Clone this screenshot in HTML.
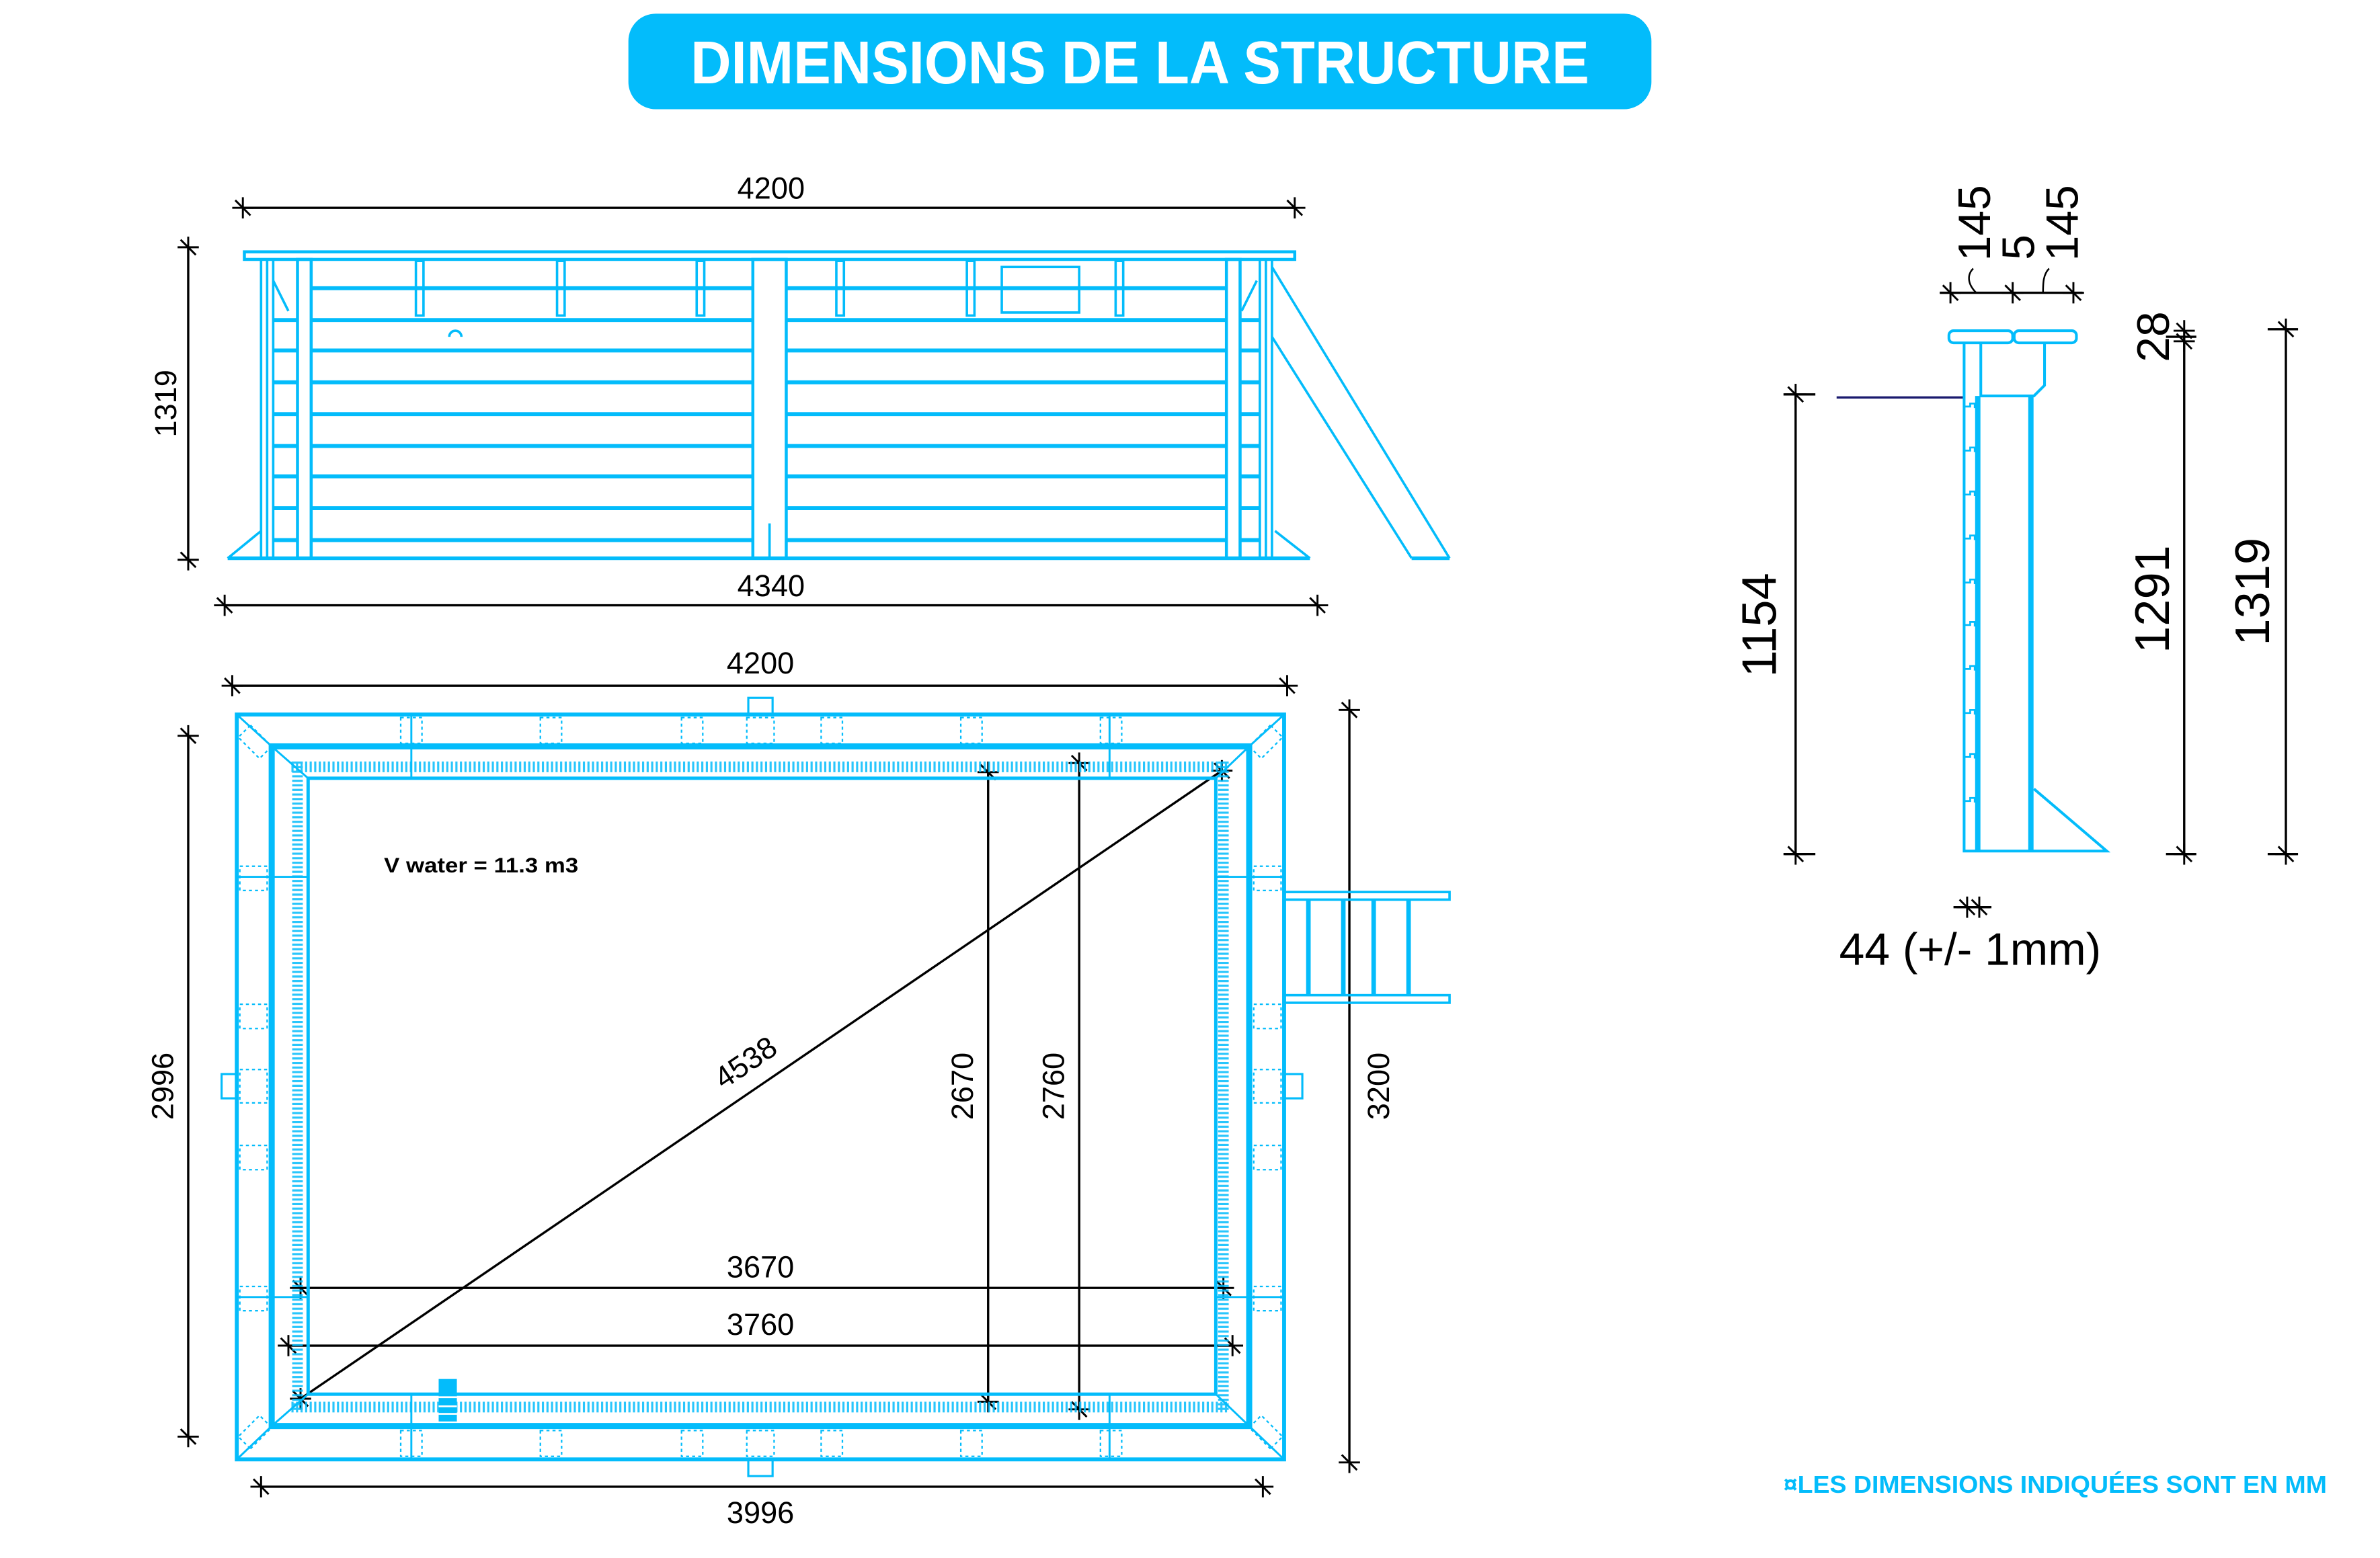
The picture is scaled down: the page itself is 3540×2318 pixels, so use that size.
<!DOCTYPE html>
<html><head><meta charset="utf-8">
<style>
html,body{margin:0;padding:0;background:#fff;}
svg{display:block;}
text{font-family:"Liberation Sans",sans-serif;}
</style></head>
<body>
<svg width="3540" height="2318" viewBox="0 0 1568 1027" preserveAspectRatio="none" xmlns="http://www.w3.org/2000/svg">
<defs>
<g id="tk"><line x1="-5" y1="-5" x2="5" y2="5" stroke="#000" stroke-width="1.3"/><line x1="0" y1="-7" x2="0" y2="7" stroke="#000" stroke-width="1.3"/><line x1="-7" y1="0" x2="7" y2="0" stroke="#000" stroke-width="1.3"/></g>
</defs>
<!-- Title -->
<rect x="414" y="9" width="674" height="63" rx="18" fill="#03bcfb"/>
<text x="751" y="55" text-anchor="middle" fill="#fff" font-weight="bold" font-size="40" textLength="592" lengthAdjust="spacingAndGlyphs">DIMENSIONS DE LA STRUCTURE</text>

<!-- ===== Elevation ===== -->
<g stroke="#000" stroke-width="1.5" fill="none">
<line x1="160" y1="137" x2="853" y2="137"/>
<line x1="124" y1="163" x2="124" y2="369"/>
<line x1="148" y1="399" x2="868" y2="399"/>
</g>
<use href="#tk" x="160" y="137"/><use href="#tk" x="853" y="137"/>
<use href="#tk" x="124" y="163"/><use href="#tk" x="124" y="369"/>
<use href="#tk" x="148" y="399"/><use href="#tk" x="868" y="399"/>
<text x="508" y="131" text-anchor="middle" font-size="20">4200</text>
<text x="508" y="393" text-anchor="middle" font-size="20">4340</text>
<text transform="translate(116,266) rotate(-90)" text-anchor="middle" font-size="20">1319</text>

<g stroke="#03bcfb" fill="none" stroke-width="1.6">
<rect x="161" y="166" width="692" height="5" stroke-width="2"/>
<rect x="172" y="171" width="8" height="197"/>
<rect x="196" y="171" width="9" height="197" stroke-width="2"/>
<rect x="496" y="171" width="22" height="197" stroke-width="2"/>
<rect x="808" y="171" width="9" height="197" stroke-width="2"/>
<rect x="830" y="171" width="8" height="197"/>
<line x1="176" y1="171" x2="176" y2="368"/>
<line x1="834" y1="171" x2="834" y2="368"/>
<line x1="507" y1="345" x2="507" y2="368"/>
<g stroke-width="2.6">
<path d="M205 190H496M518 190H808M205 211H496M518 211H808M205 231H496M518 231H808M205 252H496M518 252H808M205 273H496M518 273H808M205 294H496M518 294H808M205 314H496M518 314H808M205 335H496M518 335H808M205 356H496M518 356H808"/>
<path d="M180 211H196M180 231H196M180 252H196M180 273H196M180 294H196M180 314H196M180 335H196M180 356H196M817 211H830M817 231H830M817 252H830M817 273H830M817 294H830M817 314H830M817 335H830M817 356H830"/>
</g>
<line x1="150" y1="368" x2="863" y2="368" stroke-width="2.4"/>
<rect x="274" y="172" width="5" height="36"/><rect x="367" y="172" width="5" height="36"/>
<rect x="459" y="172" width="5" height="36"/><rect x="551" y="172" width="5" height="36"/>
<rect x="637" y="172" width="5" height="36"/><rect x="735" y="172" width="5" height="36"/>
<rect x="660" y="176" width="51" height="30"/>
<path d="M296 222a4 4 0 0 1 8 0"/>
<path d="M180 185L190 205M828 185L818 205"/>
<path d="M150 368L172 350M863 368L840 350"/>
<line x1="838" y1="176" x2="955" y2="368"/>
<line x1="838" y1="222" x2="930" y2="368"/>
<line x1="930" y1="368" x2="955" y2="368" stroke-width="2.4"/>
</g>

<!-- ===== Plan ===== -->
<g stroke="#000" stroke-width="1.5" fill="none">
<line x1="153" y1="452" x2="848" y2="452"/>
<line x1="124" y1="485" x2="124" y2="947"/>
<line x1="889" y1="468" x2="889" y2="964"/>
<line x1="172" y1="980" x2="832" y2="980"/>
<line x1="198" y1="849" x2="806" y2="849"/>
<line x1="190" y1="887" x2="812" y2="887"/>
<line x1="198" y1="922" x2="805" y2="508"/>
<line x1="651" y1="509" x2="651" y2="924"/>
<line x1="711" y1="503" x2="711" y2="929"/>
</g>
<use href="#tk" x="153" y="452"/><use href="#tk" x="848" y="452"/>
<use href="#tk" x="124" y="485"/><use href="#tk" x="124" y="947"/>
<use href="#tk" x="889" y="468"/><use href="#tk" x="889" y="964"/>
<use href="#tk" x="172" y="980"/><use href="#tk" x="832" y="980"/>
<use href="#tk" x="198" y="849"/><use href="#tk" x="806" y="849"/>
<use href="#tk" x="190" y="887"/><use href="#tk" x="812" y="887"/>
<use href="#tk" x="198" y="922"/><use href="#tk" x="805" y="508"/>
<use href="#tk" x="651" y="509"/><use href="#tk" x="651" y="924"/>
<use href="#tk" x="711" y="503"/><use href="#tk" x="711" y="929"/>
<text x="501" y="444" text-anchor="middle" font-size="20">4200</text>
<text x="501" y="842" text-anchor="middle" font-size="20">3670</text>
<text x="501" y="880" text-anchor="middle" font-size="20">3760</text>
<text x="501" y="1004" text-anchor="middle" font-size="20">3996</text>
<text transform="translate(114,716) rotate(-90)" text-anchor="middle" font-size="20">2996</text>
<text transform="translate(915,716) rotate(-90)" text-anchor="middle" font-size="20">3200</text>
<text transform="translate(641,716) rotate(-90)" text-anchor="middle" font-size="20">2670</text>
<text transform="translate(701,716) rotate(-90)" text-anchor="middle" font-size="20">2760</text>
<text transform="translate(495,706) rotate(-34)" text-anchor="middle" font-size="20">4538</text>
<text x="253" y="575" font-size="14" font-weight="bold" textLength="128" lengthAdjust="spacingAndGlyphs">V water = 11.3 m3</text>

<g stroke="#03bcfb" fill="none">
<g stroke-width="7" stroke-dasharray="1.4 1.6" opacity="0.85">
<line x1="192" y1="505.5" x2="810" y2="505.5"/>
<line x1="192" y1="927.5" x2="810" y2="927.5"/>
<line x1="196" y1="502" x2="196" y2="930"/>
<line x1="806" y1="502" x2="806" y2="930"/>
</g>
<rect x="156" y="471" width="690" height="491" stroke-width="2.6"/>
<rect x="179" y="492" width="644" height="448" stroke-width="4"/>
<rect x="203" y="513" width="598" height="406" stroke-width="2.2"/>
<g stroke-width="1.3">
<path d="M156 471L179 492M846 471L823 492M156 962L179 940M846 962L823 940"/>
<path d="M179 492L203 513M823 492L801 513M179 940L203 919M823 940L801 919"/>
<path d="M271 471V513M731 471V513M271 919V962M731 919V962M156 578H203M156 855H203M801 578H846M801 855H846"/>
</g>
<g stroke-width="1.4">
<rect x="493" y="460" width="16" height="11"/><rect x="493" y="962" width="16" height="11"/>
<rect x="146" y="708" width="10" height="16"/><rect x="846" y="708" width="12" height="16"/>
</g>
<g stroke-width="1" stroke-dasharray="2 2">
<path d="M264 473h14v17h-14zM356 473h14v17h-14zM449 473h14v17h-14zM492 473h18v17h-18zM541 473h14v17h-14zM633 473h14v17h-14zM725 473h14v17h-14z"/>
<path d="M264 943h14v17h-14zM356 943h14v17h-14zM449 943h14v17h-14zM492 943h18v17h-18zM541 943h14v17h-14zM633 943h14v17h-14zM725 943h14v17h-14z"/>
<path d="M158 571h18v16h-18zM158 662h18v16h-18zM158 755h18v16h-18zM158 848h18v16h-18zM158 705h18v22h-18z"/>
<path d="M826 571h18v16h-18zM826 662h18v16h-18zM826 755h18v16h-18zM826 848h18v16h-18zM826 705h18v22h-18z"/>
<path d="M165 478l14 14l-8 8l-14-14zM837 478l-14 14l8 8l14-14zM165 955l14-14l-8-8l-14 14zM837 955l-14-14l8-8l14 14z"/>
</g>
<g stroke-width="1.6">
<rect x="846" y="588" width="109" height="5"/>
<rect x="846" y="656" width="109" height="5"/>
</g>
<g stroke-width="3">
<path d="M862 593V656M885 593V656M905 593V656M928 593V656"/>
</g>
</g>
<rect x="289" y="909" width="12" height="28" fill="#03bcfb"/>
<path d="M289 921h12M289 927h12M289 932h12" stroke="#fff" stroke-width="1.2"/>

<!-- ===== Section ===== -->
<g stroke="#000" stroke-width="1.5" fill="none">
<line x1="1183" y1="260" x2="1183" y2="563"/>
<line x1="1175" y1="260" x2="1196" y2="260"/>
<line x1="1175" y1="563" x2="1196" y2="563"/>
<line x1="1439" y1="222" x2="1439" y2="563"/>
<line x1="1427" y1="222" x2="1447" y2="222"/>
<line x1="1427" y1="563" x2="1447" y2="563"/>
<line x1="1506" y1="217" x2="1506" y2="563"/>
<line x1="1494" y1="217" x2="1514" y2="217"/>
<line x1="1494" y1="563" x2="1514" y2="563"/>
<line x1="1278" y1="193" x2="1372" y2="193"/>
<line x1="1287" y1="598" x2="1312" y2="598"/>
<path d="M1300 177c-4 4-4 10 2 16M1350 177c-4 4-4 10-4 16" stroke-width="1.1"/>
</g>
<use href="#tk" x="1183" y="260"/><use href="#tk" x="1183" y="563"/>
<use href="#tk" x="1439" y="218"/><use href="#tk" x="1439" y="225"/><use href="#tk" x="1439" y="563"/>
<use href="#tk" x="1506" y="217"/><use href="#tk" x="1506" y="563"/>
<use href="#tk" x="1285" y="193"/><use href="#tk" x="1326" y="193"/><use href="#tk" x="1366" y="193"/>
<use href="#tk" x="1296" y="598"/><use href="#tk" x="1304" y="598"/>
<line x1="1210" y1="262" x2="1294" y2="262" stroke="#1a1a6e" stroke-width="1.5"/>
<text transform="translate(1170,412) rotate(-90)" text-anchor="middle" font-size="32">1154</text>
<text transform="translate(1429,395) rotate(-90)" text-anchor="middle" font-size="32">1291</text>
<text transform="translate(1429,222) rotate(-90)" text-anchor="middle" font-size="30">28</text>
<text transform="translate(1495,390) rotate(-90)" text-anchor="middle" font-size="32">1319</text>
<text transform="translate(1311,147) rotate(-90)" text-anchor="middle" font-size="30">145</text>
<text transform="translate(1340,163) rotate(-90)" text-anchor="middle" font-size="30">5</text>
<text transform="translate(1369,147) rotate(-90)" text-anchor="middle" font-size="30">145</text>
<text x="1298" y="636" text-anchor="middle" font-size="30">44 (+/- 1mm)</text>

<g stroke="#03bcfb" fill="none" stroke-width="1.8">
<rect x="1284" y="218" width="42" height="8" rx="3"/>
<rect x="1327" y="218" width="41" height="8" rx="3"/>
<path d="M1294 226V561H1388L1340 520"/>
<path d="M1305 226V261H1340L1347 254V226"/>
<line x1="1303" y1="261" x2="1303" y2="561" stroke-width="3.5"/>
<line x1="1338" y1="261" x2="1338" y2="561" stroke-width="3.5"/>
<path d="M1294 268h4v-2h3v3M1294 297h4v-2h3v3M1294 326h4v-2h3v3M1294 355h4v-2h3v3M1294 384h4v-2h3v3M1294 412h4v-2h3v3M1294 441h4v-2h3v3M1294 470h4v-2h3v3M1294 499h4v-2h3v3M1294 528h4v-2h3v3" stroke-width="1.2"/>
</g>

<text x="1533" y="984" text-anchor="end" fill="#03bcfb" font-weight="bold" font-size="16" textLength="358" lengthAdjust="spacingAndGlyphs">¤LES DIMENSIONS INDIQUÉES SONT EN MM</text>
</svg>
</body></html>
